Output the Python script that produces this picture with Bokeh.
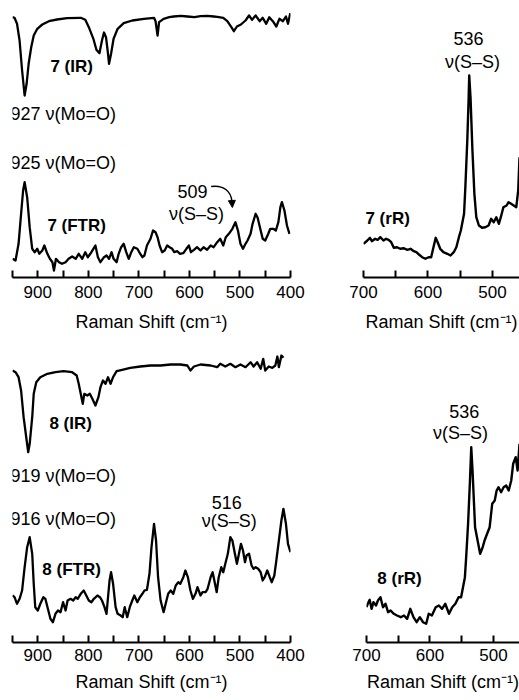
from bokeh.plotting import figure
from bokeh.layouts import column, row
from bokeh.models import Range1d, FixedTicker, Label, Arrow, NormalHead
from bokeh.embed import file_html
from bokeh.resources import INLINE

FONT = "Liberation Sans"

# ---------------- data (wavenumber cm-1, intensity arb. units) ----------------
ir7_wn = [950,946,941,936,931,926,922,918,913,908,901,891,878,862,842,815,806,799,790,784,
          778,773,769,765,761,759,755,750,742,730,713,690,670,667,663,660,651,640,631,617,
          604,590,578,565,552,545,533,525,517,512,506,498,489,482,476,469,461,455,448,442,
          435,428,422,415,409,405,401,400]
ir7_int = [83.3,82.7,76.7,60,30,5,17,37,53.3,65,71.7,76,79.3,81,82.3,82.7,80.7,73.3,61.7,50.7,
           47.3,60,68,63.3,46.7,36.7,46.7,61.7,71.7,77.3,80,81.7,82.7,79.3,65,78.3,81.7,83.3,84,84.7,
           84,83.3,84.3,84.7,84,83.7,82.7,79.3,73.3,69.3,74,76,80,85,80.7,85,79.3,82.7,76.7,83.3,
           79.3,74,81.7,79.3,84,76.7,86,87.3]

ftr7_wn = [950,944,938,933,929,926,921,916,911,906,901,897,891,887,881,876,871,868,864,858,
           852,845,839,832,825,819,812,806,801,796,790,786,781,776,769,764,759,754,750,744,
           740,735,730,725,720,715,710,703,698,693,689,684,677,672,667,663,659,654,649,644,
           639,634,630,624,619,612,606,601,597,591,585,578,572,565,558,552,545,539,533,528,
           522,515,509,504,499,494,489,485,479,475,469,465,459,455,450,444,440,434,429,424,
           420,417,412,407,402]
ftr7_int = [11.7,10,26.7,56.7,80,88.3,73.3,43.3,21.7,18.3,21.7,16.7,20,25,16.7,11.7,8.3,0,11.7,8.3,
            6.7,8.3,11.7,14,11.7,16.7,11.7,18.3,13.3,16.7,21.7,25,13.3,8.3,13.3,15,11.7,18.3,11.7,8.3,
            16.7,23.3,26.7,18.3,11.7,18.3,23.3,21.7,17.3,13.3,15,25,31.7,40,38.3,33.3,25,18.3,20,25,
            23.3,21.7,18.3,19.3,16.7,17.3,21.7,25,18.3,20.7,23.3,20,23.3,20.7,25,23.3,28.3,31.7,25,33.3,
            36.7,41.7,48.3,40,26.7,21.7,26.7,30,36.7,46.7,56.7,52.7,40,31.7,30,36.7,41.7,41.7,40,48.3,
            63.3,68.3,60,45,36.7]

rr7_wn = [700,694,690,687,682,678,674,669,665,661,657,653,648,643,638,632,627,622,618,614,
          609,604,599,595,592,588,585,581,576,570,565,560,556,552,549,544,542,539,537,536,
          534,531,528,525,521,516,511,506,502,498,494,490,487,483,478,475,471,467,463,460,
          458]
rr7_int = [26.7,30,32.7,29.3,31.7,30.7,33.3,30,31.7,30.7,28.3,22.7,23.3,21.7,22.3,20.7,21.7,19.3,18.3,16,
           13.3,11.7,13.3,13.3,21.7,32.7,28.3,21.7,18.3,16.7,15,18.3,23.3,33.3,40,56.7,83.3,130,170,195,
           173.3,120,76.7,53.3,45,42.7,43.3,45,51.7,48.3,53.3,46.7,53.3,63.3,65,68.3,66.7,65,63.3,80,
           113.3]

ir8_wn = [950,944,938,933,928,922,919,916,911,908,903,895,881,865,849,832,823,819,815,811,
          808,802,797,792,786,780,776,771,766,761,756,751,744,733,717,697,677,657,637,618,
          604,598,591,578,558,545,539,529,519,509,499,489,479,473,466,459,454,450,443,436,
          430,426,423,418,414]
ir8_int = [90,88.3,83.3,70,43.3,20,8.3,16.7,43.3,66.7,78.3,83.3,86.7,88.3,89.3,88.3,85,76.7,66.7,56.7,
           66.7,65,66.7,61.7,55,63.3,73.3,80,76.7,83.3,76.7,83.3,89.3,90.7,92.7,94,95,95,96,96,
           95,90,94,96,95,93.3,96.7,94,96.7,93.3,96,93.3,98.3,94,98.3,91.7,101.7,90,94,92.7,
           95,104,93.3,105,102.7]

ftr8_wn = [950,946,941,936,931,926,921,916,911,908,905,900,895,889,885,880,875,870,865,860,
           855,850,845,841,835,830,825,821,815,809,804,799,794,789,782,777,773,768,764,761,
           758,755,751,746,742,736,732,728,723,718,713,709,703,698,693,689,684,679,675,670,
           666,662,657,651,647,642,637,632,627,622,618,612,608,603,598,593,588,584,578,574,
           568,564,558,554,550,546,542,537,533,529,524,519,515,510,506,502,498,494,490,487,
           482,477,473,469,464,459,455,451,446,441,437,432,428,423,418,414,409,405,400]
ftr8_int = [30,28.3,21.7,26.7,35,58.3,78.3,88.3,71.7,41.7,18.3,15,21.7,28.3,26.7,16.7,6.7,3.3,11.7,15,
            13.3,23.3,15,25,26.7,25,28.3,26.7,31.7,35,30,25,23.3,26.7,30,28.3,25,18.3,11.7,28.3,
            45,53.3,41.7,18.3,11.7,10,8.3,18.3,8.3,18.3,25,30,23.3,28.3,31.7,35,35.7,51.7,78.3,101.7,
            85,48.3,25,13.3,21.7,31.7,35,31.7,40,43.3,41.7,48.3,55,48.3,35,26.7,31.7,38.3,30,33.3,
            33.3,36.7,48.3,53.3,43.3,33.3,48.3,58.3,53.3,61.7,71.7,88.3,85,71.7,61.7,71.7,81.7,75,63.3,70,
            71.7,60,56.7,58.3,56.7,53.3,45,48.3,55,48.3,43.3,50,65,85,105,116.7,101.7,81.7,73.3]

rr8_wn = [700,698,695,692,689,685,682,678,674,670,666,662,657,652,646,641,636,631,626,621,
          616,611,606,602,597,591,586,581,576,570,565,560,555,551,548,545,543,540,537,535,
          533,529,525,521,517,514,510,506,502,498,495,492,488,484,480,476,472,469,465,462,
          459]
rr8_int = [33.3,36.7,40.7,31.7,38.3,35,40,43.3,33.3,36.7,28.3,30,26.7,25,23.3,25,21.7,31.7,23.3,18.3,
           23.3,18.3,16.7,26.7,25,33.3,35,31.7,36.7,26.7,33.3,36.7,43.3,43.3,53.3,63.3,83.3,116.7,160,193.3,
           170,113.3,100,86.7,93.3,100,106.7,113.3,136.7,140,150,153.3,148.3,153.3,155,150,160,176.7,183.3,170,
           196.7]

wide_major = [900, 800, 700, 600, 500, 400]
wide_minor = [950, 850, 750, 650, 550, 450]
narrow_major = [700, 600, 500]
narrow_minor = [650, 550]
axis_title = "Raman Shift (cm\u207b\u00b9)"


def make_fig(x0, x1, fw, fh, bl, br, bb, major, minor, lab_off, title_off):
    p = figure(frame_width=fw, frame_height=fh,
               x_range=Range1d(x0, x1), y_range=Range1d(0, fh),
               min_border_left=bl, min_border_right=br, min_border_top=0,
               min_border_bottom=bb, y_axis_location=None,
               toolbar_location=None, output_backend="svg")
    p.outline_line_color = None
    p.grid.visible = False
    p.background_fill_color = "white"
    p.border_fill_color = "white"
    ax = p.xaxis[0]
    ax.ticker = FixedTicker(ticks=major, minor_ticks=minor)
    ax.axis_line_width = 2
    ax.axis_line_color = "black"
    ax.major_tick_line_width = 2
    ax.minor_tick_line_width = 2
    ax.major_tick_line_color = "black"
    ax.minor_tick_line_color = "black"
    ax.major_tick_in = 7
    ax.major_tick_out = 0
    ax.minor_tick_in = 7
    ax.minor_tick_out = 0
    ax.major_label_text_font = FONT
    ax.major_label_text_font_size = "17px"
    ax.major_label_text_color = "black"
    ax.major_label_standoff = lab_off
    ax.axis_label = axis_title
    ax.axis_label_text_font = FONT
    ax.axis_label_text_font_size = "18px"
    ax.axis_label_text_font_style = "normal"
    ax.axis_label_text_color = "black"
    ax.axis_label_standoff = title_off
    return p


def trace(p, wn, inten, base, lw=2.3):
    p.line(wn, [base + v for v in inten], line_color="black", line_width=lw,
           line_join="round")


def lab(p, x, y, text, bold=False, align="left", size="18px"):
    p.add_layout(Label(x=x, y=y, text=text, text_font=FONT, text_font_size=size,
                       text_font_style="bold" if bold else "normal",
                       text_align=align, text_baseline="middle", text_color="black"))


# ---------------- top-left: compound 7 IR + FTR ----------------
p1 = make_fig(950, 400, 278, 277, 12, 40, 63, wide_major, wide_minor, 8, 11)
trace(p1, ir7_wn, ir7_int, 177)
trace(p1, ftr7_wn, ftr7_int, 7)
lab(p1, 875, 211, "7 (IR)", bold=True, size="17px")
lab(p1, 954, 164, "927 \u03bd(Mo=O)")
lab(p1, 954, 115, "925 \u03bd(Mo=O)")
lab(p1, 881, 52, "7 (FTR)", bold=True, size="17px")
lab(p1, 594, 86, "509", align="center")
lab(p1, 586, 64, "\u03bd(S\u2013S)", align="center")
p1.bezier(x0=[557], y0=[91], x1=[516], y1=[76], cx0=[533], cy0=[93],
          cx1=[517], cy1=[86], line_color="black", line_width=1.5)
p1.add_layout(Arrow(end=NormalHead(size=7, fill_color="black", line_color="black"),
                    x_start=516, y_start=77, x_end=515, y_end=70,
                    line_color="black", line_width=1.5))

# ---------------- top-right: compound 7 rR ----------------
p2 = make_fig(700, 458, 156, 277, 33, 0, 63, narrow_major, narrow_minor, 8, 11)
trace(p2, rr7_wn, rr7_int, 7, lw=2.4)
lab(p2, 697, 59, "7 (rR)", bold=True, size="17px")
lab(p2, 537, 239, "536", align="center")
lab(p2, 531, 216, "\u03bd(S\u2013S)", align="center")

# ---------------- bottom-left: compound 8 IR + FTR ----------------
p3 = make_fig(950, 400, 278, 302, 12, 40, 58, wide_major, wide_minor, 6, 8)
trace(p3, ir8_wn, ir8_int, 182)
trace(p3, ftr8_wn, ftr8_int, 17)
lab(p3, 877, 219, "8 (IR)", bold=True, size="17px")
lab(p3, 954, 167, "919 \u03bd(Mo=O)")
lab(p3, 954, 124, "916 \u03bd(Mo=O)")
lab(p3, 891, 73, "8 (FTR)", bold=True, size="17px")
lab(p3, 526, 140, "516", align="center")
lab(p3, 521, 122, "\u03bd(S\u2013S)", align="center")

# ---------------- bottom-right: compound 8 rR ----------------
p4 = make_fig(700, 459, 153, 302, 36, 0, 58, narrow_major, narrow_minor, 6, 8)
trace(p4, rr8_wn, rr8_int, 2, lw=2.4)
lab(p4, 683, 64, "8 (rR)", bold=True, size="17px")
lab(p4, 546, 231, "536", align="center")
lab(p4, 552, 210, "\u03bd(S\u2013S)", align="center")

layout = column(row(p1, p2), row(p3, p4))
open("out.html", "w").write(file_html(layout, INLINE))
